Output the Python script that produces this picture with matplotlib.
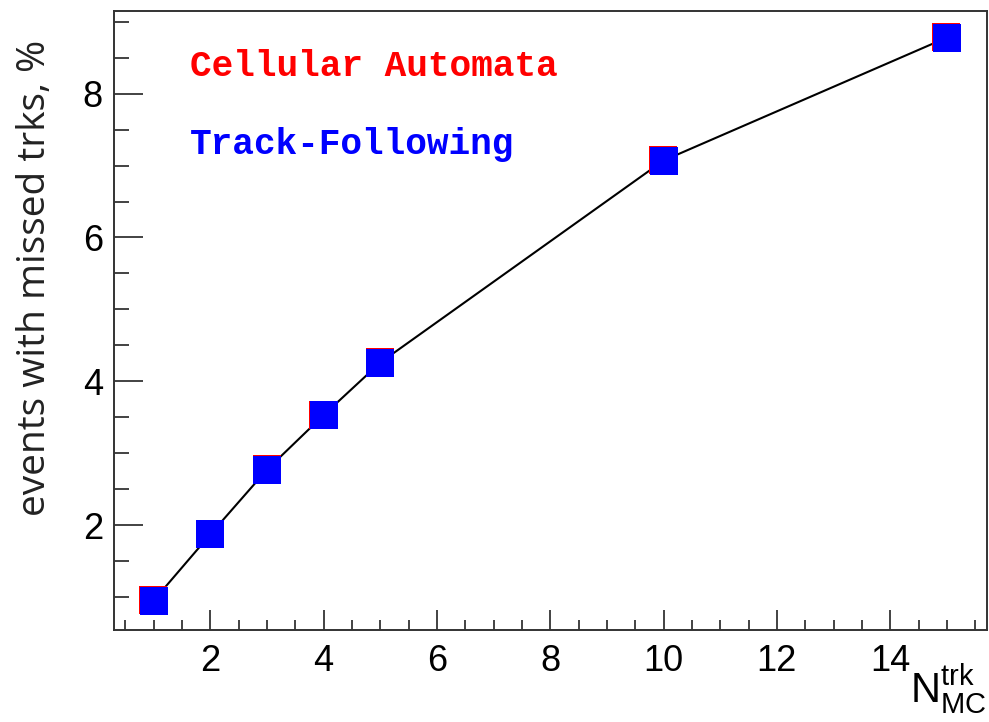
import matplotlib
matplotlib.use("Agg")
import matplotlib.pyplot as plt
import matplotlib.transforms as mtransforms
from matplotlib.ticker import MultipleLocator

# data
n_mc = [1, 2, 3, 4, 5, 10, 15]
missed_ca = [0.95, 1.87, 2.77, 3.53, 4.26, 7.07, 8.78]   # Cellular Automata
missed_tf = [0.95, 1.87, 2.77, 3.53, 4.26, 7.07, 8.78]   # Track-Following
x_ticks = [2, 4, 6, 8, 10, 12, 14]
y_ticks = [2, 4, 6, 8]

fig = plt.figure(figsize=(9.89, 7.22), dpi=100)
ax = fig.add_axes([0.1153, 0.1274, 0.8822, 0.8574])

# line + markers (red underneath, barely peeking out top-left; blue on top)
ax.plot(n_mc, missed_tf, color="black", lw=1.5, zorder=2)
red_shift = mtransforms.offset_copy(ax.transData, fig=fig, x=-0.5, y=0.5,
                                    units="dots")
ax.plot(n_mc, missed_ca, ls="none", marker="s", ms=20, mfc="red",
        mec="red", mew=0, zorder=3, transform=red_shift)
ax.plot(n_mc, missed_tf, ls="none", marker="s", ms=20, mfc="blue",
        mec="blue", mew=0, zorder=4)

ax.set_xlim(0.3, 15.7)
ax.set_ylim(0.54, 9.15)
ax.set_xticks(x_ticks)
ax.set_yticks(y_ticks)
ax.xaxis.set_minor_locator(MultipleLocator(0.5))
ax.yaxis.set_minor_locator(MultipleLocator(0.5))

# ROOT style ticks: inward, only bottom/left
ax.tick_params(axis="x", which="major", direction="in", length=14.5, width=1.2,
               pad=10, labelsize=26, labelfontfamily="Liberation Sans",
               color="#222222")
ax.tick_params(axis="x", which="minor", direction="in", length=7.5, width=1.2,
               color="#222222")
ax.tick_params(axis="y", which="major", direction="in", length=21, width=1.2,
               pad=8, labelsize=26, labelfontfamily="Liberation Sans",
               color="#222222")
ax.tick_params(axis="y", which="minor", direction="in", length=10.5, width=1.2,
               color="#222222")
for sp in ax.spines.values():
    sp.set_linewidth(1.4)
    sp.set_color("#333333")

# labels
fig.text(35 / 989, 1 - 40 / 722, "events with missed trks, %", rotation=90,
         ha="center", va="top", fontsize=28, family="Open Sans", color="#222222")
fig.text(987 / 989, 6 / 722, r"$\mathregular{N_{MC}^{trk}}$", ha="right",
         va="bottom", fontsize=30, family="Liberation Sans")

# legend-like texts
ax.text(190 / 989, 1 - 66 / 722, "Cellular Automata", transform=fig.transFigure,
        color="red", fontsize=26, family="Liberation Mono", weight="bold",
        va="center", ha="left")
ax.text(190 / 989, 1 - 145 / 722, "Track-Following", transform=fig.transFigure,
        color="blue", fontsize=26, family="Liberation Mono", weight="bold",
        va="center", ha="left")

fig.savefig("out.png", dpi=100)
